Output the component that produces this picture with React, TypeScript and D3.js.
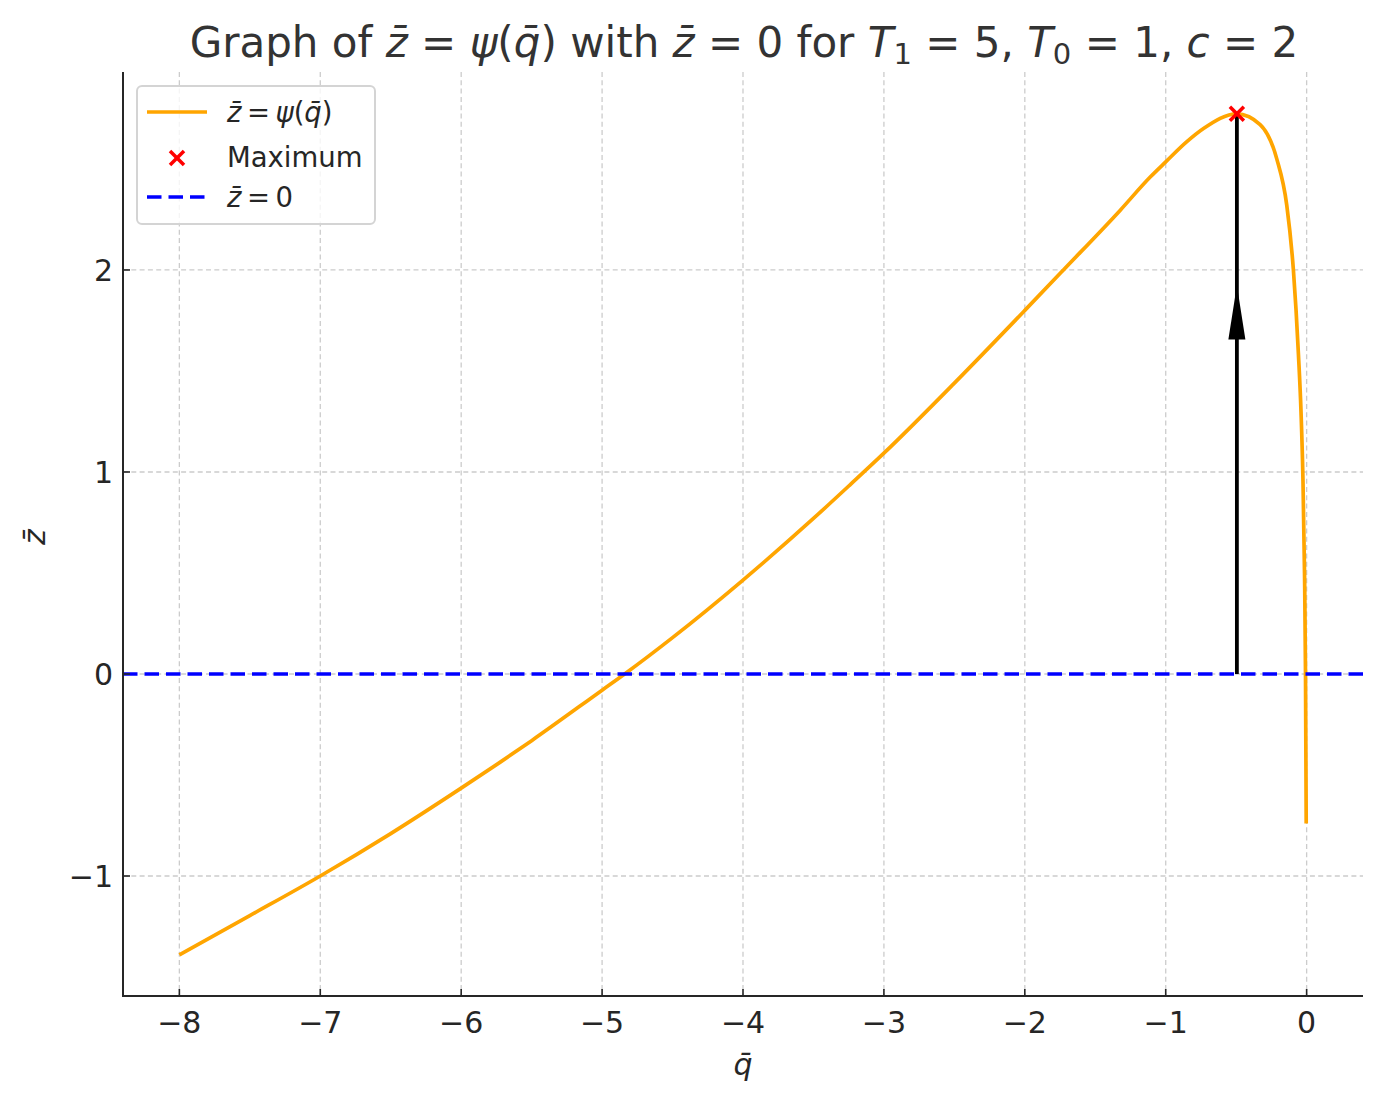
import * as React from 'react';
import * as d3 from 'd3';

// curve z̄ = ψ(q̄)
const qValues = [-8, -7.5, -7, -6.5, -6, -5.72, -5.5, -5, -4.84, -4.5, -4, -3.5, -3.235, -3, -2.5, -2, -1.726, -1.324, -1.11, -1, -0.85, -0.732, -0.495, -0.33, -0.212, -0.141, -0.094, -0.075, -0.058, -0.04, -0.027, -0.015, -0.008, -0.003];
const zValues = [-1.39, -1.196, -1.0, -0.79, -0.565, -0.435, -0.33, -0.08, 0, 0.18, 0.465, 0.77, 0.94, 1.093, 1.44, 1.8, 2.0, 2.295, 2.46, 2.535, 2.635, 2.7, 2.773, 2.72, 2.55, 2.32, 2.0, 1.8, 1.58, 1.3, 0.99, 0.5, 0, -0.74];

const maxPoint = {q: -0.495, z: 2.773};
const zeroLevel = 0;

const xTicks = [-8, -7, -6, -5, -4, -3, -2, -1, 0];
const yTicks = [-1, 0, 1, 2];

const width = 1383;
const height = 1107;
const plot = {left: 123, right: 1363, top: 72, bottom: 996};

const FONT = 'DejaVu Sans';
const TXT = '#262626';

const fmt = (v: number) => (v < 0 ? '\u2212' + Math.abs(v) : String(v));

// z̄ / q̄ as italic letter with combining macron
const Bar = ({ch}: {ch: string}) => <tspan fontStyle="italic">{ch + '\u0304'}</tspan>;

export default function App() {
  const x = d3.scaleLinear().domain([-8.4, 0.4]).range([plot.left, plot.right]);
  const y = d3.scaleLinear().domain([-1.594, 2.98]).range([plot.bottom, plot.top]);

  const pts = qValues.map((q, i) => [q, zValues[i]] as [number, number]);
  const line = d3.line<[number, number]>()
    .x(d => x(d[0]))
    .y(d => y(d[1]))
    .curve(d3.curveMonotoneX);

  const ax = x(maxPoint.q);
  const tipY = y(maxPoint.z * 0.694);
  const baseY = y(maxPoint.z * 0.597);

  const mk = (cx: number, cy: number, r: number, w: number) => (
    <g stroke="#ff0000" strokeWidth={w}>
      <line x1={cx - r} y1={cy - r} x2={cx + r} y2={cy + r} />
      <line x1={cx - r} y1={cy + r} x2={cx + r} y2={cy - r} />
    </g>
  );

  return (
    <svg width={width} height={height} style={{position: 'absolute', left: 0, top: 0, background: '#fff'}}
      fontFamily={FONT}>
      <rect width={width} height={height} fill="#fff" />

      {/* grid */}
      <g stroke="#cccccc" strokeWidth={1.3} strokeDasharray="5,3.3">
        {xTicks.map(t => <line key={'gx' + t} x1={x(t)} x2={x(t)} y1={plot.top} y2={plot.bottom} />)}
        {yTicks.map(t => <line key={'gy' + t} x1={plot.left} x2={plot.right} y1={y(t)} y2={y(t)} />)}
      </g>

      {/* curve */}
      <path d={line(pts) || ''} fill="none" stroke="#ffa500" strokeWidth={3.7} />

      {/* zero line */}
      <line x1={plot.left} x2={plot.right} y1={y(zeroLevel)} y2={y(zeroLevel)}
        stroke="#0000ff" strokeWidth={3.6} strokeDasharray="14.5,7" />

      {/* arrow */}
      <line x1={ax} x2={ax} y1={y(zeroLevel)} y2={y(maxPoint.z)} stroke="#000" strokeWidth={3.8} />
      <polygon points={`${ax},${tipY} ${ax - 8.5},${baseY} ${ax + 8.5},${baseY}`} fill="#000" />

      {/* maximum marker */}
      {mk(x(maxPoint.q), y(maxPoint.z), 7, 3.5)}

      {/* spines */}
      <g stroke={TXT} strokeWidth={2}>
        <line x1={plot.left} x2={plot.left} y1={plot.top} y2={plot.bottom + 1} />
        <line x1={plot.left - 1} x2={plot.right} y1={plot.bottom} y2={plot.bottom} />
      </g>

      {/* ticks */}
      <g stroke={TXT} strokeWidth={1.6}>
        {xTicks.map(t => <line key={'tx' + t} x1={x(t)} x2={x(t)} y1={plot.bottom} y2={plot.bottom - 7} />)}
        {yTicks.map(t => <line key={'ty' + t} x1={plot.left} x2={plot.left + 7} y1={y(t)} y2={y(t)} />)}
      </g>
      <g fontSize={30} fill={TXT}>
        {xTicks.map(t => (
          <text key={'lx' + t} x={x(t)} y={plot.bottom + 37} textAnchor="middle">{fmt(t)}</text>
        ))}
        {yTicks.map(t => (
          <text key={'ly' + t} x={plot.left - 10} y={y(t) + 11} textAnchor="end">{fmt(t)}</text>
        ))}
      </g>

      {/* axis labels */}
      <text x={(plot.left + plot.right) / 2} y={1075} textAnchor="middle" fontSize={30} fill={TXT}>
        <Bar ch="q" />
      </text>
      <text transform="translate(45,537) rotate(-90)" textAnchor="middle" fontSize={30} fill={TXT}>
        <Bar ch="z" />
      </text>

      {/* title */}
      <text x={744} y={57} textAnchor="middle" fontSize={42} fill="#333333">
        <tspan>Graph of </tspan>
        <Bar ch="z" />
        <tspan> = </tspan>
        <tspan fontStyle="italic">ψ</tspan>
        <tspan>(</tspan>
        <Bar ch="q" />
        <tspan>) with </tspan>
        <Bar ch="z" />
        <tspan> = 0 for </tspan>
        <tspan fontStyle="italic">T</tspan>
        <tspan fontSize={29} dy={7}>1</tspan>
        <tspan dy={-7}> = 5, </tspan>
        <tspan fontStyle="italic">T</tspan>
        <tspan fontSize={29} dy={7}>0</tspan>
        <tspan dy={-7}> = 1, </tspan>
        <tspan fontStyle="italic">c</tspan>
        <tspan> = 2</tspan>
      </text>

      {/* legend */}
      <g>
        <rect x={137} y={86} width={238} height={138} rx={5} fill="#fff" fillOpacity={0.8}
          stroke="#d4d4d4" strokeWidth={2} />
        <line x1={147} x2={207} y1={112} y2={112} stroke="#ffa500" strokeWidth={3.7} />
        {mk(177, 158, 7, 3.5)}
        <line x1={147} x2={207} y1={197} y2={197} stroke="#0000ff" strokeWidth={3.6} strokeDasharray="14.5,7" />
        <g fontSize={27.5} fill={TXT}>
          <text x={227} y={122}><Bar ch="z" /><tspan>{'\u2009=\u2009'}</tspan><tspan fontStyle="italic">ψ</tspan><tspan>(</tspan><Bar ch="q" /><tspan>)</tspan></text>
          <text x={227} y={167}>Maximum</text>
          <text x={227} y={207}><Bar ch="z" /><tspan>{'\u2009=\u2009'}</tspan><tspan>0</tspan></text>
        </g>
      </g>
    </svg>
  );
}
